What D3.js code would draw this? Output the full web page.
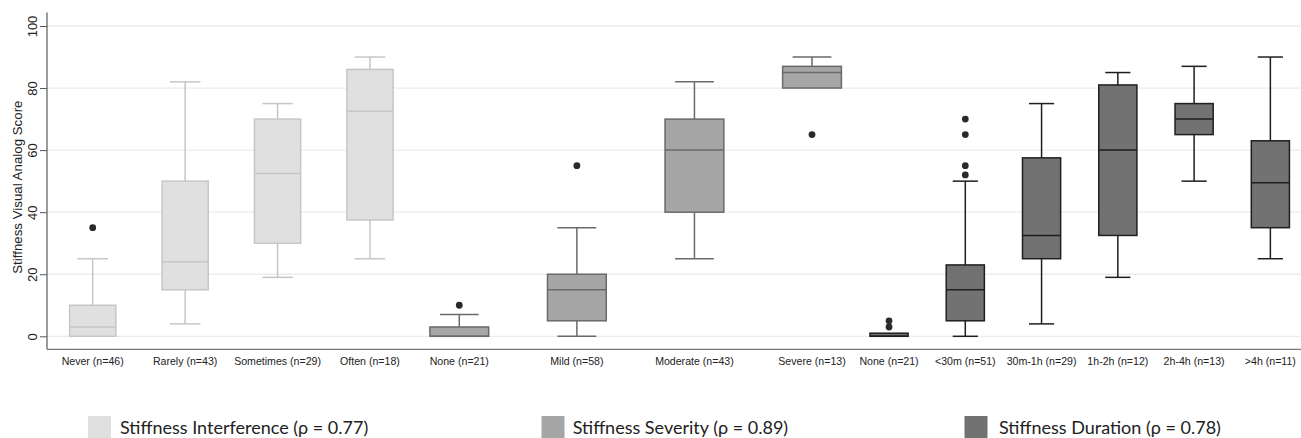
<!DOCTYPE html>
<html>
<head>
<meta charset="utf-8">
<script src="https://cdn.jsdelivr.net/npm/d3@7"></script>
<style>
  html, body { margin: 0; padding: 0; background: #ffffff; }
  svg { display: block; }
</style>
</head>
<body>
<div id="chart"></div>
<script>
// ---------------- DATA ----------------
// stats per category: [lower whisker, q1, median, q3, upper whisker]
const interferenceCategories = ["Never (n=46)", "Rarely (n=43)", "Sometimes (n=29)", "Often (n=18)"];
const interferenceStats = [
  [0, 0, 3, 10, 25],
  [4, 15, 24, 50, 82],
  [19, 30, 52.5, 70, 75],
  [25, 37.5, 72.5, 86, 90]
];
const interferenceOutliers = [[35], [], [], []];

const severityCategories = ["None (n=21)", "Mild (n=58)", "Moderate (n=43)", "Severe (n=13)"];
const severityStats = [
  [0, 0, 0, 3, 7],
  [0, 5, 15, 20, 35],
  [25, 40, 60, 70, 82],
  [80, 80, 85, 87, 90]
];
const severityOutliers = [[10], [55], [], [65]];

const durationCategories = ["None (n=21)", "<30m (n=51)", "30m-1h (n=29)", "1h-2h (n=12)", "2h-4h (n=13)", ">4h (n=11)"];
const durationStats = [
  [0, 0, 0, 1, 1],
  [0, 5, 15, 23, 50],
  [4, 25, 32.5, 57.5, 75],
  [19, 32.5, 60, 81, 85],
  [50, 65, 70, 75, 87],
  [25, 35, 49.5, 63, 90]
];
const durationOutliers = [[3, 5], [52, 55, 65, 70], [], [], [], []];

const yTicks = [0, 20, 40, 60, 80, 100];
const legendLabels = ["Stiffness Interference (\u03C1 = 0.77)", "Stiffness Severity (\u03C1 = 0.89)", "Stiffness Duration (\u03C1 = 0.78)"];

// ---------------- LAYOUT ----------------
const W = 1301, H = 438;
const svg = d3.select("#chart").append("svg").attr("width", W).attr("height", H);

const y = d3.scaleLinear().domain([0, 100]).range([336.3, 26]);
const axisX = 47, axisBottom = 349.3, axisTop = 12.5;

const panels = [
  { cats: interferenceCategories, stats: interferenceStats, outs: interferenceOutliers,
    range: [46.5, 416.2], fill: "#e0e0e0", stroke: "#c6c6c6" },
  { cats: severityCategories, stats: severityStats, outs: severityOutliers,
    range: [400.5, 870.8], fill: "#a6a6a6", stroke: "#6a6a6a" },
  { cats: durationCategories, stats: durationStats, outs: durationOutliers,
    range: [850.9, 1308.5], fill: "#727272", stroke: "#1e1e1e" }
];

// gridlines
svg.append("g").selectAll("line").data(yTicks).join("line")
  .attr("x1", axisX).attr("x2", W)
  .attr("y1", d => y(d)).attr("y2", d => y(d))
  .attr("stroke", "#ececec").attr("stroke-width", 1.3);

// y axis
const yAxis = d3.axisLeft(y).tickValues(yTicks).tickSize(7).tickPadding(4);
const gy = svg.append("g").attr("transform", `translate(${axisX},0)`).call(yAxis);
gy.select(".domain").remove();
gy.selectAll(".tick line").attr("stroke", "#555").attr("stroke-width", 1);
gy.selectAll(".tick text")
  .attr("font-family", "Liberation Sans, Arial, sans-serif")
  .attr("font-size", 13).attr("fill", "#222")
  .attr("text-anchor", "middle").attr("dy", "0")
  .attr("transform", "rotate(-90)").attr("x", 0).attr("y", -10.5);

svg.append("line").attr("x1", axisX).attr("x2", axisX).attr("y1", axisTop).attr("y2", axisBottom)
  .attr("stroke", "#666").attr("stroke-width", 1.3);
svg.append("line").attr("x1", axisX).attr("x2", W).attr("y1", axisBottom).attr("y2", axisBottom)
  .attr("stroke", "#777").attr("stroke-width", 1.3);

svg.append("text")
  .attr("transform", `translate(21.5,${(y(0) + y(100)) / 2 + 6}) rotate(-90)`)
  .attr("text-anchor", "middle")
  .attr("font-family", "Liberation Sans, Arial, sans-serif")
  .attr("font-size", 13.3).attr("fill", "#222")
  .text("Stiffness Visual Analog Score");

// boxes
panels.forEach(p => {
  const x = d3.scaleBand().domain(p.cats).range(p.range).paddingInner(0.5).paddingOuter(0.25);
  const bw = x.bandwidth();
  const cap = bw * 0.66;
  const g = svg.append("g");
  const items = p.cats.map((c, i) => ({ c, s: p.stats[i], o: p.outs[i] }));
  const gi = g.selectAll("g.box").data(items).join("g").attr("class", "box");
  const cx = d => x(d.c) + bw / 2;

  // whiskers
  gi.append("line").attr("x1", cx).attr("x2", cx)
    .attr("y1", d => y(d.s[3])).attr("y2", d => y(d.s[4]))
    .attr("stroke", p.stroke).attr("stroke-width", 1.5);
  gi.append("line").attr("x1", cx).attr("x2", cx)
    .attr("y1", d => y(d.s[1])).attr("y2", d => y(d.s[0]))
    .attr("stroke", p.stroke).attr("stroke-width", 1.5);
  gi.filter(d => d.s[4] > d.s[3]).append("line")
    .attr("x1", d => cx(d) - cap / 2).attr("x2", d => cx(d) + cap / 2)
    .attr("y1", d => y(d.s[4])).attr("y2", d => y(d.s[4]))
    .attr("stroke", p.stroke).attr("stroke-width", 1.5);
  gi.filter(d => d.s[0] < d.s[1]).append("line")
    .attr("x1", d => cx(d) - cap / 2).attr("x2", d => cx(d) + cap / 2)
    .attr("y1", d => y(d.s[0])).attr("y2", d => y(d.s[0]))
    .attr("stroke", p.stroke).attr("stroke-width", 1.5);
  // box
  gi.append("rect")
    .attr("x", d => x(d.c)).attr("width", bw)
    .attr("y", d => y(d.s[3])).attr("height", d => Math.max(0.5, y(d.s[1]) - y(d.s[3])))
    .attr("fill", p.fill).attr("stroke", p.stroke).attr("stroke-width", 1.5);
  // median
  gi.append("line")
    .attr("x1", d => x(d.c)).attr("x2", d => x(d.c) + bw)
    .attr("y1", d => y(d.s[2])).attr("y2", d => y(d.s[2]))
    .attr("stroke", p.stroke).attr("stroke-width", 1.5);
  // outliers
  gi.selectAll("circle").data(d => d.o.map(v => ({ v, d }))).join("circle")
    .attr("cx", e => cx(e.d)).attr("cy", e => y(e.v)).attr("r", 3.4)
    .attr("fill", "#2a2a2a");

  // x labels
  g.selectAll("text.xl").data(p.cats).join("text").attr("class", "xl")
    .attr("x", d => x(d) + bw / 2).attr("y", 365)
    .attr("text-anchor", "middle")
    .attr("font-family", "Liberation Sans, Arial, sans-serif")
    .attr("font-size", 10.6).attr("fill", "#222")
    .text(d => d);
});

// legend
const legendColors = ["#e0e0e0", "#a6a6a6", "#727272"];
const legendX = [88, 541.5, 964.5];
const legendTextOffset = [32, 31.2, 34.5];
const lg = svg.append("g").selectAll("g").data(legendLabels).join("g")
  .attr("transform", (d, i) => `translate(${legendX[i]},416)`);
lg.append("rect").attr("width", 23).attr("height", 22).attr("fill", (d, i) => legendColors[i]);
lg.append("text").attr("x", (d, i) => legendTextOffset[i]).attr("y", 18)
  .attr("font-family", "Lato, 'Open Sans', sans-serif")
  .attr("font-size", 18).attr("fill", "#222")
  .text(d => d);
</script>
</body>
</html>
